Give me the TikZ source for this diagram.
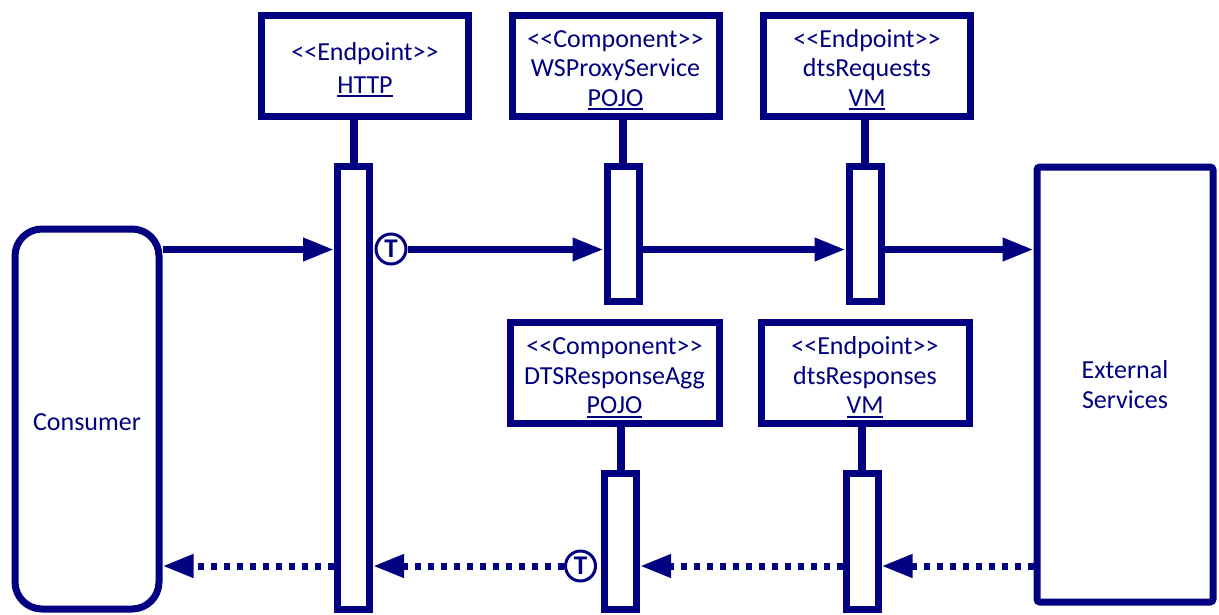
\documentclass[tikz,border=0pt]{standalone}
\usepackage{fontspec}
\setmainfont{Carlito}
\usetikzlibrary{arrows.meta}
\definecolor{navy}{RGB}{0,0,128}
% underlined label, drawn with a rule so its weight is fixed
\newcommand\uln[1]{\leavevmode\setbox0\hbox{#1}\rlap{\rule[-4pt]{\wd0}{1.8pt}}\box0}
% stereotype brackets, kept apart so they are not turned into guillemets
\newcommand\stopen{<\kern0pt<}
\newcommand\stclose{>\kern0pt>}
% strut that pushes a text block down a little
\newcommand\topstrut{\rule{0pt}{26pt}}
\tikzset{
  txt/.style={text=navy, font=\fontsize{26}{29.5}\selectfont, align=center},
  lifebox/.style={txt, draw=navy, line width=7pt, fill=white,
    minimum width=207pt, minimum height=101pt, inner sep=0pt},
  actbox/.style={draw=navy, line width=7pt, fill=white,
    minimum width=32pt, inner sep=0pt},
  stem/.style={draw=navy, line width=8pt},
  tmark/.style={circle, draw=navy, line width=3pt, fill=white,
    minimum size=30pt, inner sep=0pt, text=navy,
    font=\fontsize{27}{27}\selectfont\bfseries},
  tip/.style={-{Triangle[length=31pt,width=22pt]}},
  fwd/.style={draw=navy, line width=7pt, tip},
  ret/.style={draw=navy, line width=7pt, dash pattern=on 6pt off 7pt, tip},
}
\begin{document}
\begin{tikzpicture}[x=1pt,y=-1pt]
\useasboundingbox (0,0) rectangle (1219,614);

% participants
\node[lifebox] (http) at (365,65.5) {\topstrut\stopen Endpoint\stclose\\[3.5pt]\uln{HTTP}};
\node[lifebox] (wsp)  at (615.5,65.5) {\topstrut\stopen Component\stclose\\WSProxyService\\\uln{POJO}};
\node[lifebox] (dreq) at (867,65.5) {\topstrut\stopen Endpoint\stclose\\dtsRequests\\\uln{VM}};
\node[lifebox, minimum width=209pt] (dagg) at (614.5,373) {\topstrut\stopen Component\stclose\\DTSResponseAgg\\\uln{POJO}};
\node[lifebox, minimum width=208pt] (dresp) at (865,373) {\topstrut\stopen Endpoint\stclose\\dtsResponses\\\uln{VM}};

% activation bars
\node[actbox, minimum height=443pt] (httpact) at (353.5,387.5) {};
\node[actbox, minimum height=135pt] (wspact)  at (623,233.5) {};
\node[actbox, minimum height=135pt] (dreqact) at (865,233.5) {};
\node[actbox, minimum height=136pt] (daggact) at (620.5,541) {};
\node[actbox, minimum height=136pt] (drespact) at (862,541) {};

% lifeline stems
\draw[stem] (httpact.north) -- (httpact.north |- http.south);
\draw[stem] (wspact.north) -- (wspact.north |- wsp.south);
\draw[stem] (dreqact.north) -- (dreqact.north |- dreq.south);
\draw[stem] (daggact.north) -- (daggact.north |- dagg.south);
\draw[stem] (drespact.north) -- (drespact.north |- dresp.south);

% consumer and external side
\node[txt, draw=navy, line width=7pt, rounded corners=27pt,
  minimum width=144pt, minimum height=380pt] (cons) at (87,419) {\rule{0pt}{24pt}Consumer};
\node[txt, draw=navy, line width=7pt, rounded corners=3pt,
  minimum width=176pt, minimum height=435pt] (ext) at (1125,384.5) {External\\Services};

% message levels
\coordinate (fy) at (0,249.5);
\coordinate (ry) at (0,566);

% transaction markers
\node[tmark] (t1) at (391,249) {T};
\node[tmark] (t2) at (580.5,566) {T};

% request flow
\draw[fwd] (cons.east |- fy) -- (httpact.west |- fy);
\draw[fwd] (t1.east |- fy) -- (wspact.west |- fy);
\draw[fwd] (wspact.east |- fy) -- (dreqact.west |- fy);
\draw[fwd] (dreqact.east |- fy) -- (ext.west |- fy);

% response flow
\draw[ret] (ext.west |- ry) -- (drespact.east |- ry);
\draw[ret] (drespact.west |- ry) -- (daggact.east |- ry);
\draw[ret] (t2.west) -- (httpact.east |- ry);
\draw[ret] (httpact.west |- ry) -- (cons.east |- ry);
\end{tikzpicture}
\end{document}
